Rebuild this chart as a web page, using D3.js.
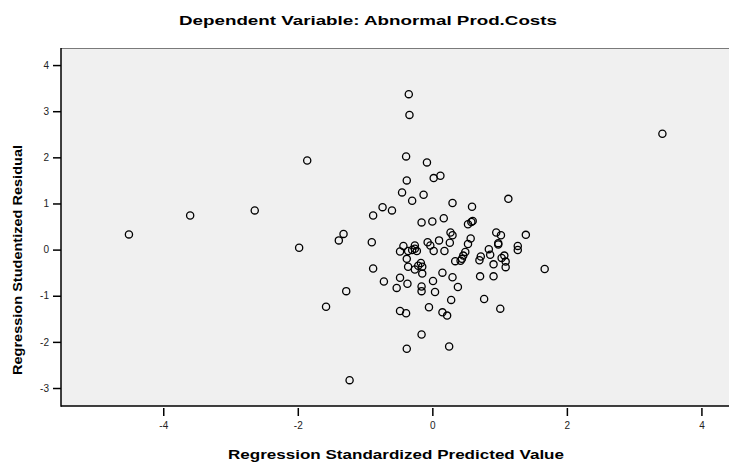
<!DOCTYPE html>
<html>
<head>
<meta charset="utf-8">
<script src="https://cdn.jsdelivr.net/npm/d3@7"></script>
<style>
  body { margin: 0; background: #fff; }
  text { font-family: "Liberation Sans", Arial, sans-serif; }
</style>
</head>
<body>
<div id="chart"></div>
<script>
// regression residual scatter
var title = "Dependent Variable: Abnormal Prod.Costs";
var xTitle = "Regression Standardized Predicted Value";
var yTitle = "Regression Studentized Residual";
var xTicks = [-4, -2, 0, 2, 4];
var yTicks = [-3, -2, -1, 0, 1, 2, 3, 4];

// standardized predicted values
var predicted = [
  -4.51, -3.60, -2.64, -1.86, -1.98, -1.23, -1.58, -1.28, -1.32, -1.39,
  -0.90, -0.88, -0.74, -0.60, -0.45, -0.38, -0.39, -0.35, -0.34, -0.30,
  -0.13, -0.08, -0.16, 0.00, 0.02, 0.12, 0.30, 0.17, 0.27, 0.30,
  0.26, 0.10, 0.18, 0.34, -0.48, -0.43, -0.36, -0.30, -0.26, -0.23,
  -0.26, -0.07, -0.03, 0.02, -0.38, -0.36, -0.17, -0.21, -0.15, -0.26,
  -0.15, -0.88, -0.48, -0.72, -0.37, -0.53, -0.16, -0.16, 0.01, 0.04,
  0.15, 0.30, 0.38, -0.48, -0.39, -0.05, 0.15, 0.22, 0.28, -0.16,
  -0.38, 0.25, 0.59, 1.13, 0.53, 0.58, 0.60, 0.57, 0.53, 0.49,
  0.46, 0.44, 0.42, 0.95, 1.02, 0.98, 0.98, 1.39, 1.27, 1.27,
  0.84, 0.86, 0.72, 0.70, 1.03, 1.07, 1.09, 1.09, 0.91, 1.67,
  0.71, 0.91, 0.77, 1.01, 3.42
];
// studentized residuals
var residual = [
  0.33, 0.74, 0.85, 1.93, 0.04, -2.83, -1.24, -0.90, 0.34, 0.20,
  0.16, 0.74, 0.92, 0.85, 1.24, 1.50, 2.02, 3.37, 2.92, 1.06,
  1.19, 1.89, 0.59, 0.61, 1.55, 1.60, 1.01, 0.68, 0.37, 0.31,
  0.15, 0.20, -0.03, -0.25, -0.04, 0.08, -0.03, -0.01, 0.02, -0.03,
  0.09, 0.16, 0.09, -0.03, -0.20, -0.37, -0.29, -0.35, -0.37, -0.43,
  -0.52, -0.41, -0.61, -0.69, -0.74, -0.83, -0.80, -0.90, -0.68, -0.92,
  -0.50, -0.60, -0.81, -1.33, -1.38, -1.25, -1.36, -1.43, -1.09, -1.84,
  -2.15, -2.10, 0.93, 1.10, 0.55, 0.60, 0.62, 0.24, 0.12, -0.05,
  -0.13, -0.20, -0.24, 0.37, 0.31, 0.14, 0.11, 0.32, 0.08, -0.01,
  0.01, -0.11, -0.15, -0.23, -0.18, -0.13, -0.26, -0.38, -0.32, -0.42,
  -0.58, -0.58, -1.07, -1.28, 2.51
];

var width = 729, height = 463;
var plotLeft = 61, plotRight = 729, plotTop = 48, plotBottom = 406;

var svg = d3.select('#chart').append('svg')
    .attr('width', width)
    .attr('height', height);

var x = d3.scaleLinear().domain([-5.52, 4.41]).range([plotLeft, plotRight]);
var y = d3.scaleLinear().domain([-3.39, 4.37]).range([plotBottom, plotTop]);

// plot background
svg.append('rect')
    .attr('x', plotLeft).attr('y', plotTop)
    .attr('width', plotRight - plotLeft).attr('height', plotBottom - plotTop)
    .style('fill', '#f0f0f0');

// top border
svg.append('line')
    .attr('x1', plotLeft).attr('x2', plotRight)
    .attr('y1', plotTop + 0.5).attr('y2', plotTop + 0.5)
    .style('stroke', '#7a7a7a').style('stroke-width', 1);

// axes, plain hyphen for negatives like the original
var fmt = function(d) { return String(d); };

var yAxis = svg.append('g')
    .attr('transform', 'translate(' + plotLeft + ',0)')
    .call(d3.axisLeft(y).tickValues(yTicks).tickSize(8).tickPadding(4).tickFormat(fmt));
yAxis.select('.domain').remove();

var xAxis = svg.append('g')
    .attr('transform', 'translate(0,' + (plotBottom + 2) + ')')
    .call(d3.axisBottom(x).tickValues(xTicks).tickSize(8).tickPadding(6).tickFormat(fmt));
xAxis.select('.domain').remove();

svg.selectAll('.tick line').style('stroke', '#000').style('stroke-width', 1.5);
svg.selectAll('.tick text')
    .style('font-size', '10px')
    .style('fill', '#222')
    .style('font-family', '"Liberation Sans", Arial, sans-serif');

// frame lines on left and bottom
svg.append('line')
    .attr('x1', plotLeft).attr('x2', plotLeft)
    .attr('y1', plotTop).attr('y2', plotBottom + 0.75)
    .style('stroke', '#000').style('stroke-width', 1.5);
svg.append('line')
    .attr('x1', plotLeft).attr('x2', plotRight)
    .attr('y1', plotBottom).attr('y2', plotBottom)
    .style('stroke', '#000').style('stroke-width', 1.5);

// points
var points = predicted.map(function(d, i) { return [d, residual[i]]; });
svg.append('g').selectAll('circle')
    .data(points)
    .enter().append('circle')
    .attr('cx', function(d) { return x(d[0]); })
    .attr('cy', function(d) { return y(d[1]); })
    .attr('r', 3.6)
    .style('fill', 'none')
    .style('stroke', '#000')
    .style('stroke-width', 1.3);

// titles (original chart is stretched sideways, so widths are forced)
svg.append('text')
    .attr('x', 368).attr('y', 25)
    .attr('text-anchor', 'middle')
    .attr('textLength', 378).attr('lengthAdjust', 'spacingAndGlyphs')
    .style('font-size', '13px').style('font-weight', 'bold')
    .text(title);

svg.append('text')
    .attr('x', 396).attr('y', 459)
    .attr('text-anchor', 'middle')
    .attr('textLength', 336).attr('lengthAdjust', 'spacingAndGlyphs')
    .style('font-size', '13px').style('font-weight', 'bold')
    .text(xTitle);

svg.append('text')
    .attr('transform', 'translate(22,' + 260 + ') rotate(-90)')
    .attr('text-anchor', 'middle')
    .attr('textLength', 230).attr('lengthAdjust', 'spacingAndGlyphs')
    .style('font-size', '13px').style('font-weight', 'bold')
    .text(yTitle);
</script>
</body>
</html>
